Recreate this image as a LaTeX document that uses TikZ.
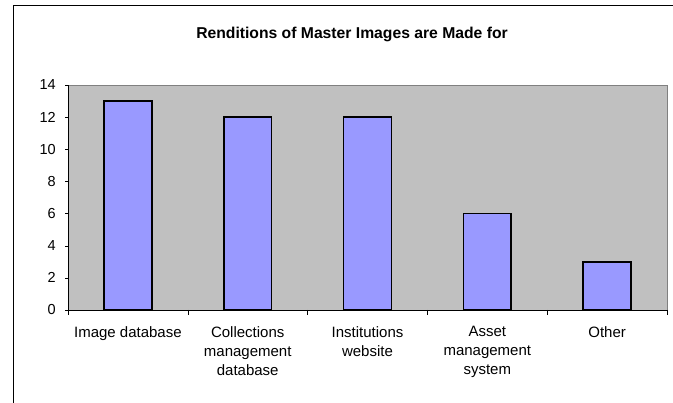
\documentclass[tikz,border=0pt]{standalone}
\usepackage{fontspec}
\setmainfont{Liberation Sans}
\usepackage{tikz}
\usetikzlibrary{positioning}
\usepackage{xcolor}

\definecolor{plotgray}{HTML}{C0C0C0}
\definecolor{framegray}{HTML}{808080}
\definecolor{barblue}{HTML}{9999FF}

\begin{document}
\begin{tikzpicture}[
x=1pt,
y=1pt,
bar/.style={
draw=black,
fill=barblue,
line width=1.6pt
},
ticklabel/.style={
anchor=east,
inner sep=0pt,
font=\fontsize{14.5}{17}\selectfont
},
catlabel/.style={
anchor=north,
align=center,
inner sep=0pt,
font=\fontsize{15}{19}\selectfont
}
]

\useasboundingbox (0,0) rectangle (673,403);

% chart frame, open to the right and below
\draw[line width=1pt] (13.5,0) -- (13.5,397) -- (673,397);

\node[anchor=base,font=\fontsize{15.7}{18}\bfseries] (title) at (352,364)
{Renditions of Master Images are Made for};

\begin{scope}[shift={(68,93)},x=119.8pt,y=16.07pt]

% plot area
\fill[plotgray] (0,0) rectangle (5,14);
\draw[framegray] (0,14) -- (5,14) -- (5,0);

% bars
\foreach \v [count=\i] in {13,12,12,6,3}
\draw[bar] (\i-0.7,0) rectangle (\i-0.3,\v);

% axes
\draw (0,0) -- (0,14);
\draw (0,0) -- (5,0);

\foreach \t in {0,2,...,14} {
\draw (0,\t) -- ++(-3pt,0);
\node[ticklabel] (y\t) at ([xshift=-12pt]0,\t) {\t};
}

\foreach \c in {0,...,5}
\draw (\c,0) -- ++(0,-5pt);

\node[catlabel] (c1) at ([yshift=-16pt]0.5,0) {Image database};
\node[catlabel] (c2) at ([yshift=-16pt]1.5,0) {Collections\\management\\database};
\node[catlabel] (c3) at ([yshift=-16pt]2.5,0) {Institutions\\website};
\node[catlabel] (c4) at ([yshift=-16pt]3.5,0) {Asset\\management\\system};
\node[catlabel] (c5) at ([yshift=-16pt]4.5,0) {Other};

\end{scope}

\end{tikzpicture}
\end{document}
